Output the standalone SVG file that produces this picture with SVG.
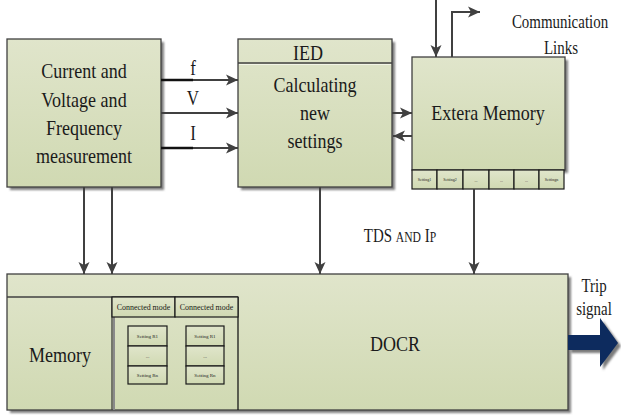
<svg xmlns="http://www.w3.org/2000/svg" width="621" height="417" viewBox="0 0 621 417">
<defs>
<linearGradient id="g" x1="0" y1="0" x2="0" y2="1">
<stop offset="0" stop-color="#e0e5cb"/>
<stop offset="1" stop-color="#d0d9b2"/>
</linearGradient>
<filter id="sh" x="-10%" y="-10%" width="130%" height="130%">
<feGaussianBlur stdDeviation="1"/>
</filter>
<marker id="ah" markerUnits="userSpaceOnUse" markerWidth="13" markerHeight="13" viewBox="0 0 13 13" refX="12" refY="6.5" orient="auto">
<path d="M0,1 L12,6.5 L0,12 L3,6.5 Z" fill="#404040"/>
</marker>
<style>
.box{fill:url(#g);stroke:#404040;stroke-width:1.3}
.shd{fill:#808080;filter:url(#sh)}
.cell{fill:url(#g);stroke:#1a1a1a;stroke-width:1.2}
.ln{fill:none;stroke:#404040;stroke-width:2}
.t{font-family:"Liberation Serif","Times New Roman",serif;fill:#1a1a1a;text-anchor:middle}
.big{font-size:22px}
.mid{font-size:18px}
.sm{font-size:9px}
.xs{font-size:5px}
.xxs{font-size:4px}
</style>
</defs>
<rect width="621" height="417" fill="#ffffff"/>

<g id="measurement">
<rect class="shd" x="10" y="42" width="154" height="148"/>
<rect class="box" x="7" y="39" width="154" height="148"/>
<text class="t big" transform="translate(84,78) scale(0.82 1)">Current and</text>
<text class="t big" transform="translate(84,106.5) scale(0.82 1)">Voltage and</text>
<text class="t big" transform="translate(84,135) scale(0.82 1)">Frequency</text>
<text class="t big" transform="translate(84,163) scale(0.82 1)">measurement</text>
</g>

<g id="ied">
<rect class="shd" x="241" y="42" width="154" height="148"/>
<rect class="box" x="238" y="39" width="154" height="148"/>
<line x1="238" y1="63" x2="392" y2="63" stroke="#404040" stroke-width="1.3"/>
<line x1="239" y1="64.5" x2="391" y2="64.5" stroke="#f2f4e6" stroke-width="1"/>
<text class="t big" transform="translate(308,60) scale(0.82 1)">IED</text>
<text class="t big" transform="translate(315,92) scale(0.82 1)">Calculating</text>
<text class="t big" transform="translate(315,120) scale(0.82 1)">new</text>
<text class="t big" transform="translate(315,148) scale(0.82 1)">settings</text>
</g>

<g id="extera-memory">
<rect class="shd" x="415" y="60" width="153" height="113"/>
<rect class="box" x="412" y="57" width="153" height="113"/>
<text class="t big" transform="translate(488,120) scale(0.82 1)">Extera Memory</text>
<rect class="cell" x="412" y="170" width="25" height="19"/>
<rect class="cell" x="437" y="170" width="26" height="19"/>
<rect class="cell" x="463" y="170" width="26" height="19"/>
<rect class="cell" x="489" y="170" width="25" height="19"/>
<rect class="cell" x="514" y="170" width="25" height="19"/>
<rect class="cell" x="539" y="170" width="25" height="19"/>
<text class="t xxs" x="424.5" y="181">Setting1</text>
<text class="t xxs" x="450" y="181">Setting2</text>
<text class="t xxs" x="476" y="182">...</text>
<text class="t xxs" x="501.5" y="182">...</text>
<text class="t xxs" x="526.5" y="182">...</text>
<text class="t xxs" x="551.5" y="181">Settingn</text>
</g>

<g id="comm-label">
<text class="t mid" transform="translate(560,28) scale(0.83 1)">Communication</text>
<text class="t mid" transform="translate(561,54) scale(0.83 1)">Links</text>
</g>

<g id="docr">
<rect class="shd" x="10" y="277" width="561" height="136"/>
<rect class="box" x="7" y="274" width="561" height="136"/>
<line x1="7" y1="297" x2="238" y2="297" stroke="#404040" stroke-width="1.3"/>
<line x1="112" y1="297" x2="112" y2="410" stroke="#404040" stroke-width="1.3"/>
<line x1="114" y1="317" x2="114" y2="410" stroke="#8a8a8a" stroke-width="2"/>
<line x1="238" y1="297" x2="238" y2="410" stroke="#1a1a1a" stroke-width="1.3"/>
<rect class="cell" x="112" y="297" width="63" height="20"/>
<rect class="cell" x="175" y="297" width="63" height="20"/>
<text class="t sm" transform="translate(143.5,310) scale(0.88 1)">Connected mode</text>
<text class="t sm" transform="translate(206.5,310) scale(0.88 1)">Connected mode</text>
<rect class="cell" x="128" y="326" width="39" height="20"/>
<rect class="cell" x="128" y="346" width="39" height="20"/>
<rect class="cell" x="128" y="366" width="39" height="18"/>
<rect class="cell" x="186" y="326" width="38" height="20"/>
<rect class="cell" x="186" y="346" width="38" height="20"/>
<rect class="cell" x="186" y="366" width="38" height="18"/>
<text class="t xs" x="147.5" y="338">Setting R1</text>
<text class="t xs" x="147.5" y="358">...</text>
<text class="t xs" x="147.5" y="377">Setting Rn</text>
<text class="t xs" x="205" y="338">Setting R1</text>
<text class="t xs" x="205" y="358">...</text>
<text class="t xs" x="205" y="377">Setting Rn</text>
<text class="t big" transform="translate(60,362) scale(0.82 1)">Memory</text>
<text class="t big" transform="translate(395,351) scale(0.82 1)">DOCR</text>
</g>

<g id="trip-signal">
<polygon points="571,338 603,338 603,321 621,346 603,370 603,353 571,353" fill="#7a7a7a" filter="url(#sh)"/>
<polygon points="568,335 600,335 600,318 618,343 600,367 600,350 568,350" fill="#0d2b5e"/>
<text class="t mid" transform="translate(594,292) scale(0.83 1)">Trip</text>
<text class="t mid" transform="translate(594,315) scale(0.83 1)">signal</text>
</g>

<g id="connectors">
<line x1="161" y1="80" x2="193" y2="80" stroke="#111" stroke-width="2.5"/>
<line class="ln" x1="193" y1="80" x2="238" y2="80" marker-end="url(#ah)"/>
<line class="ln" x1="161" y1="113" x2="238" y2="113" marker-end="url(#ah)"/>
<line x1="161" y1="148" x2="193" y2="148" stroke="#111" stroke-width="2.5"/>
<line class="ln" x1="193" y1="148" x2="238" y2="148" marker-end="url(#ah)"/>
<line class="ln" x1="392" y1="113" x2="412" y2="113" marker-end="url(#ah)"/>
<line class="ln" x1="412" y1="136" x2="393" y2="136" marker-end="url(#ah)"/>
<line class="ln" x1="84" y1="187" x2="84" y2="274" marker-end="url(#ah)"/>
<line class="ln" x1="112" y1="187" x2="112" y2="274" marker-end="url(#ah)"/>
<line class="ln" x1="320" y1="187" x2="320" y2="274" marker-end="url(#ah)"/>
<line class="ln" x1="474" y1="189" x2="474" y2="274" marker-end="url(#ah)"/>
<line class="ln" x1="436" y1="0" x2="436" y2="57" marker-end="url(#ah)"/>
<polyline class="ln" points="452,57 452,12 480,12" marker-end="url(#ah)"/>
<text class="t" style="font-size:20px" transform="translate(193,75) scale(0.85 1)">f</text>
<text class="t" style="font-size:20px" transform="translate(193,105) scale(0.85 1)">V</text>
<text class="t" style="font-size:20px" transform="translate(193,140) scale(0.85 1)">I</text>
<text class="t mid" transform="translate(400,242) scale(0.83 1)">TDS <tspan style="font-size:14px">AND</tspan> I<tspan style="font-size:14px">P</tspan></text>
</g>
</svg>
